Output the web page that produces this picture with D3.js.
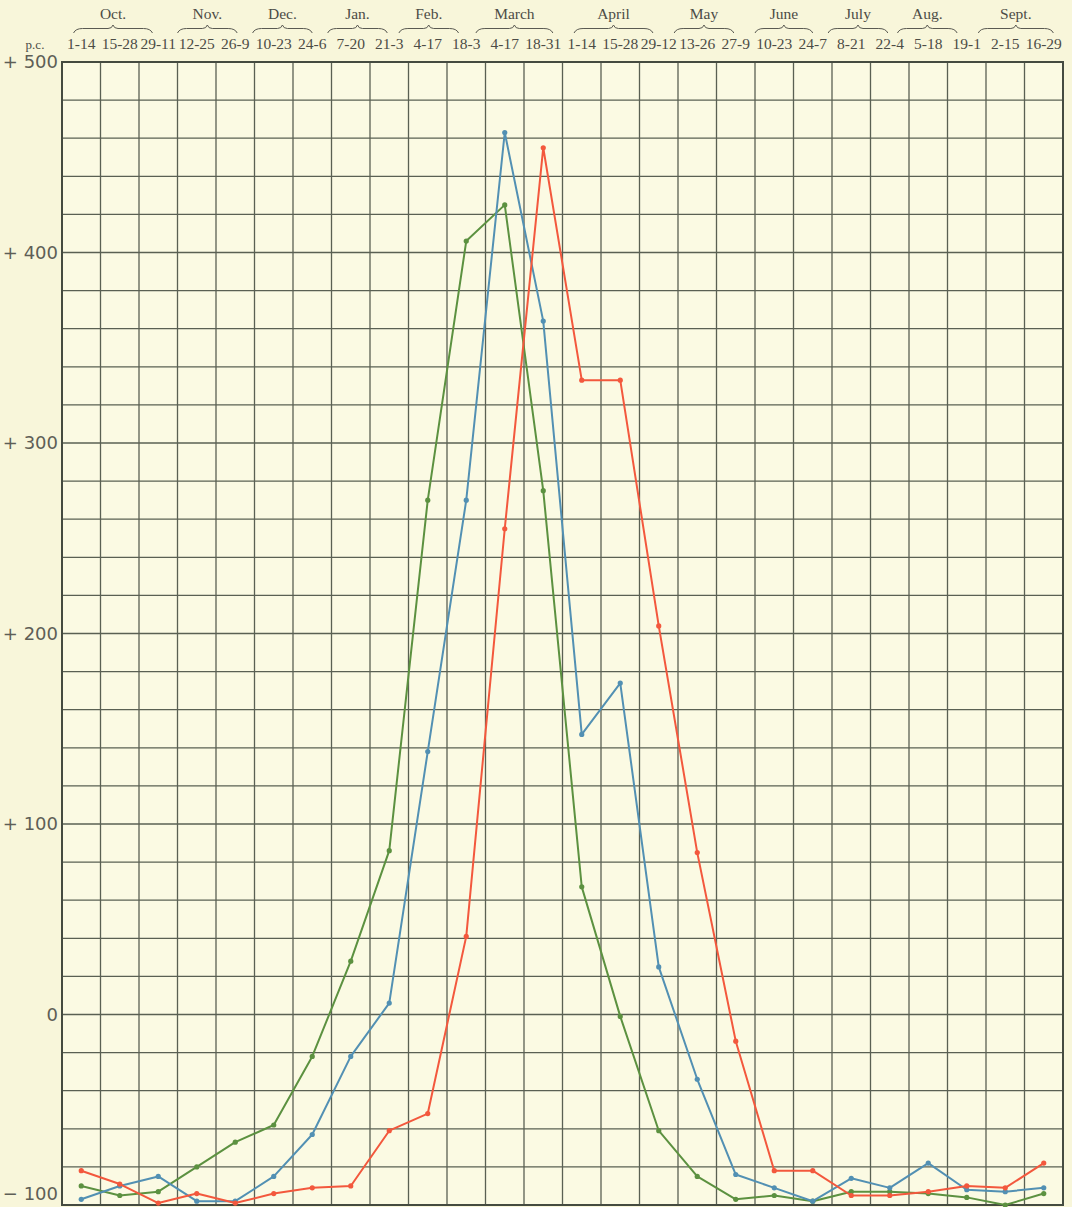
<!DOCTYPE html>
<html>
<head>
<meta charset="utf-8">
<script src="https://cdn.jsdelivr.net/npm/d3@7"></script>
<style>
  html, body { margin: 0; padding: 0; background: #f8f6da; }
  svg { display: block; }
</style>
</head>
<body>
<div id="chart"></div>
<script>
// fortnightly periods, October to September
const periods = ["1-14", "15-28", "29-11", "12-25", "26-9", "10-23", "24-6", "7-20", "21-3",
  "4-17", "18-3", "4-17", "18-31", "1-14", "15-28", "29-12", "13-26", "27-9", "10-23",
  "24-7", "8-21", "22-4", "5-18", "19-1", "2-15", "16-29"];

// month names and the span of their brace, in period (column) units
const months = ["Oct.", "Nov.", "Dec.", "Jan.", "Feb.", "March", "April", "May", "June", "July", "Aug.", "Sept."];
const monthSpans = [[0.3, 2.35], [3.0, 4.55], [4.95, 6.5], [6.9, 8.45], [8.75, 10.3], [10.75, 12.75],
  [13.3, 15.35], [15.9, 17.45], [18.0, 19.5], [19.9, 21.45], [21.7, 23.25], [23.8, 25.75]];

// per cent above / below the mean, one value per period
const greenValues = [-90, -95, -93, -80, -67, -58, -22, 28, 86, 270, 406, 425, 275, 67, -1, -61, -85,
  -97, -95, -98, -93, -93, -94, -96, -100, -94];
const blueValues = [-97, -90, -85, -98, -98, -85, -63, -22, 6, 138, 270, 463, 364, 147, 174, 25, -34,
  -84, -91, -98, -86, -91, -78, -92, -93, -91];
const redValues = [-82, -89, -99, -94, -99, -94, -91, -90, -61, -52, 41, 255, 455, 333, 333, 204, 85,
  -14, -82, -82, -95, -95, -93, -90, -91, -78];

const yTicks = [-100, 0, 100, 200, 300, 400, 500];

const width = 1072;
const height = 1207;
const marginLeft = 62;
const marginRight = 9;
const marginTop = 62;
const plotBottom = 1205;

const svg = d3.select("#chart")
  .append("svg")
  .attr("width", width)
  .attr("height", height)
  .attr("viewBox", [0, 0, width, height]);

svg.append("rect")
  .attr("width", width)
  .attr("height", height)
  .attr("fill", "#f8f6da");

// scales
const idx = d3.range(periods.length);
const x = d3.scaleBand(idx, [marginLeft, width - marginRight]);
const xCol = d3.scaleLinear([0, periods.length], [marginLeft, width - marginRight]);
const y = d3.scaleLinear([-100, 500], [plotBottom, marginTop]);

// plot paper
svg.append("rect")
  .attr("x", marginLeft)
  .attr("y", marginTop)
  .attr("width", width - marginRight - marginLeft)
  .attr("height", plotBottom - marginTop)
  .attr("fill", "#fbfae3");

// grid
const grid = svg.append("g").attr("stroke", "#5a6053").attr("stroke-width", 1.3);
grid.selectAll(".v")
  .data(d3.range(periods.length + 1))
  .join("line")
  .attr("x1", (i) => xCol(i))
  .attr("x2", (i) => xCol(i))
  .attr("y1", marginTop)
  .attr("y2", plotBottom);
grid.selectAll(".h")
  .data(d3.range(-100, 501, 20))
  .join("line")
  .attr("x1", marginLeft)
  .attr("x2", width - marginRight)
  .attr("y1", (d) => y(d))
  .attr("y2", (d) => y(d));
svg.append("rect")
  .attr("x", marginLeft)
  .attr("y", marginTop)
  .attr("width", width - marginRight - marginLeft)
  .attr("height", plotBottom - marginTop)
  .attr("fill", "none")
  .attr("stroke", "#454b40")
  .attr("stroke-width", 2);

// y axis labels
svg.append("g")
  .attr("transform", `translate(${marginLeft},0)`)
  .call(d3.axisLeft(y)
    .tickValues(yTicks)
    .tickSize(0)
    .tickPadding(4)
    .tickFormat((d) => (d > 0 ? "+ " + d : d < 0 ? "\u2212 " + -d : "0")))
  .call((g) => g.select(".domain").remove())
  .call((g) => g.selectAll("text")
    .attr("font-family", "'DejaVu Sans', sans-serif")
    .attr("font-size", 18)
    .attr("fill", "#5e5e56"))
  // keep the lowest label inside the page
  .call((g) => g.selectAll(".tick")
    .filter((d) => d === -100)
    .select("text")
    .attr("dy", "-0.3em"));

// x axis period labels
svg.append("g")
  .attr("transform", `translate(0,${marginTop})`)
  .call(d3.axisTop(x)
    .tickSize(0)
    .tickPadding(13)
    .tickFormat((i) => periods[i]))
  .call((g) => g.select(".domain").remove())
  .call((g) => g.selectAll("text")
    .attr("font-family", "'Liberation Serif', serif")
    .attr("font-size", 15.5)
    .attr("fill", "#4c4c46"));

svg.append("text")
  .attr("x", 35)
  .attr("y", 49)
  .attr("text-anchor", "middle")
  .attr("font-family", "'Liberation Serif', serif")
  .attr("font-size", 13)
  .attr("fill", "#4c4c46")
  .text("p.c.");

// month braces and names
const brace = (x0, x1) => {
  const m = (x0 + x1) / 2;
  const yb = 33, yt = 28.5, yp = 25;
  return `M${x0},${yb} Q${x0 + 2},${yt} ${x0 + 9},${yt} L${m - 5},${yt} Q${m - 1},${yt} ${m},${yp}` +
    ` Q${m + 1},${yt} ${m + 5},${yt} L${x1 - 9},${yt} Q${x1 - 2},${yt} ${x1},${yb}`;
};
const monthG = svg.append("g");
monthG.selectAll("path")
  .data(months)
  .join("path")
  .attr("d", (d, i) => brace(xCol(monthSpans[i][0]), xCol(monthSpans[i][1])))
  .attr("fill", "none")
  .attr("stroke", "#5a5a52")
  .attr("stroke-width", 1);
monthG.selectAll("text")
  .data(months)
  .join("text")
  .attr("x", (d, i) => xCol((monthSpans[i][0] + monthSpans[i][1]) / 2))
  .attr("y", 19)
  .attr("text-anchor", "middle")
  .attr("font-family", "'Liberation Serif', serif")
  .attr("font-size", 15.5)
  .attr("fill", "#4c4c46")
  .text((d) => d);

// series
const series = [
  { name: "green", values: greenValues, color: "#5c9140" },
  { name: "blue", values: blueValues, color: "#5290b3" },
  { name: "red", values: redValues, color: "#f3583d" },
];
const line = d3.line()
  .x((d, i) => x(i) + x.bandwidth() / 2)
  .y((d) => y(d));

const lines = svg.append("g");
series.forEach((s) => {
  lines.append("path")
    .datum(s.values)
    .attr("fill", "none")
    .attr("stroke", s.color)
    .attr("stroke-width", 2)
    .attr("stroke-linejoin", "round")
    .attr("d", line);
  lines.append("g")
    .selectAll("circle")
    .data(s.values)
    .join("circle")
    .attr("cx", (d, i) => x(i) + x.bandwidth() / 2)
    .attr("cy", (d) => y(d))
    .attr("r", 2.6)
    .attr("fill", s.color);
});
</script>
</body>
</html>
